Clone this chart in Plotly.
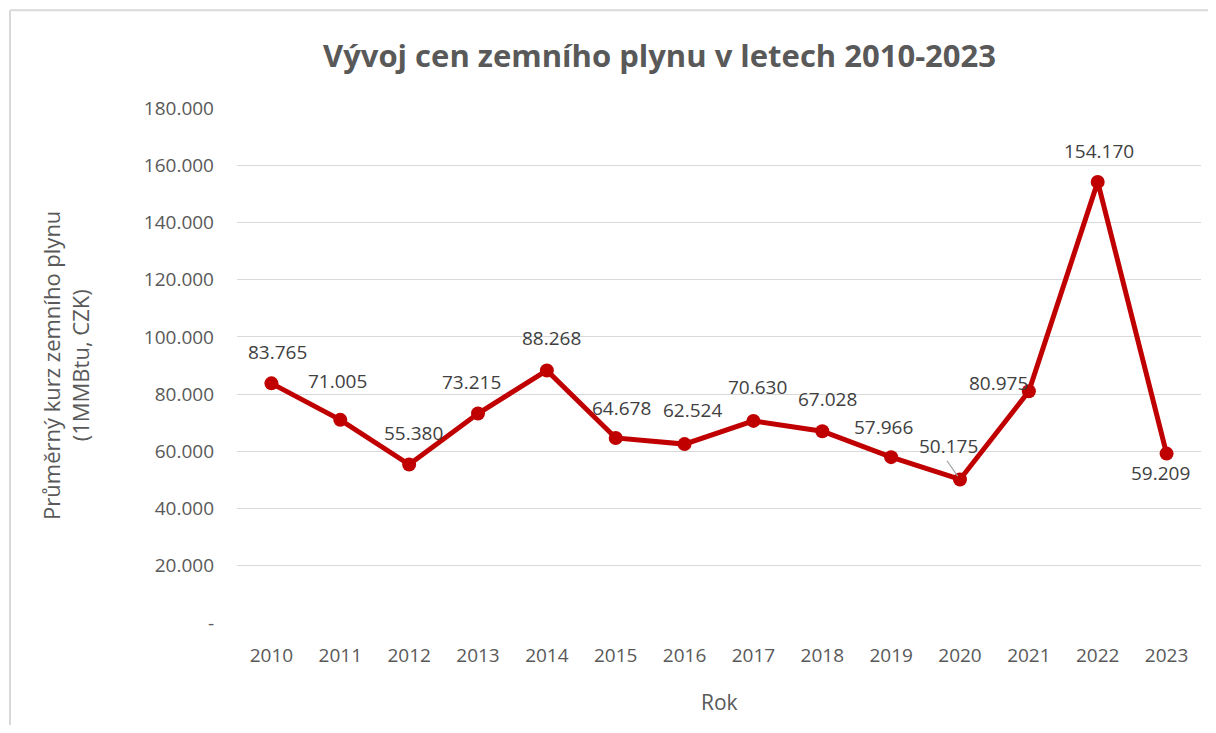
import plotly.graph_objects as go

years = [2010, 2011, 2012, 2013, 2014, 2015, 2016, 2017, 2018, 2019, 2020, 2021, 2022, 2023]
prices = [83.765, 71.005, 55.380, 73.215, 88.268, 64.678, 62.524, 70.630, 67.028, 57.966, 50.175, 80.975, 154.170, 59.209]
y_tick_vals = [0, 20, 40, 60, 80, 100, 120, 140, 160, 180]
y_tick_text = ["-", "20.000", "40.000", "60.000", "80.000", "100.000", "120.000", "140.000", "160.000", "180.000"]

title_text = "Vývoj cen zemního plynu v letech 2010-2023"
x_title = "Rok"
y_title = "Průměrný kurz zemního plynu<br>(1MMBtu, CZK)"

# label offsets in pixels (xshift, yshift) – styling only
label_offsets = [(6, 31), (-3, 39), (4, 32), (-7, 32), (5, 32), (6, 30), (8, 34), (4, 34), (5, 32), (-8, 30), (-12, 33), (-30, 8), (1, 31), (-6, -19)]

FONT = "Open Sans"
GRAY = "#595959"

fig = go.Figure()
fig.add_trace(go.Scatter(
    x=years, y=prices, mode="lines+markers",
    line=dict(color="#C00000", width=5),
    marker=dict(color="#C00000", size=14),
    hoverinfo="x+y", showlegend=False,
))

for yr, v, (dx, dy) in zip(years, prices, label_offsets):
    fig.add_annotation(x=yr, y=v, text=f"{v:.3f}", showarrow=False,
                       xshift=dx, yshift=dy,
                       font=dict(family=FONT, size=19, color="#404040"))

# leader line for 2020 label
fig.add_annotation(x=2020, y=prices[10], ax=-14, ay=-20, text="", showarrow=True,
                   arrowhead=0, arrowwidth=1.2, arrowcolor="#A6A6A6", standoff=4)

fig.add_annotation(x=0.438, y=1.103, xref="paper", yref="paper", text=f"<b>{title_text}</b>",
                   showarrow=False, xanchor="center", yanchor="middle",
                   font=dict(family=FONT, size=31, color=GRAY))

fig.add_annotation(x=-0.178, y=0.5, xref="paper", yref="paper", text=y_title,
                   showarrow=False, textangle=-90, xanchor="center", yanchor="middle",
                   font=dict(family=FONT, size=22, color=GRAY))

fig.add_annotation(x=0.5, y=-0.153, xref="paper", yref="paper", text=x_title,
                   showarrow=False, xanchor="center", yanchor="middle",
                   font=dict(family=FONT, size=21, color=GRAY))

# chart frame: only top and left edges visible
fig.add_shape(type="line", xref="paper", yref="paper",
              x0=-0.2355, x1=1.03, y0=1.19, y1=1.19,
              line=dict(color="#D9D9D9", width=2))
fig.add_shape(type="line", xref="paper", yref="paper",
              x0=-0.2355, x1=-0.2355, y0=1.19, y1=-0.25,
              line=dict(color="#D9D9D9", width=2))

fig.update_layout(
    width=1200, height=717,
    margin=dict(l=229, r=7, t=100, b=102),
    paper_bgcolor="white", plot_bgcolor="white",
    font=dict(family=FONT, color=GRAY),
    xaxis=dict(range=[2009.5, 2023.5], tickvals=years, ticktext=[str(y) for y in years],
               showgrid=False, zeroline=False, showline=False, ticks="",
               ticklabelstandoff=19,
               tickfont=dict(size=19, color=GRAY)),
    yaxis=dict(range=[0, 180], tickvals=y_tick_vals, ticktext=y_tick_text,
               showgrid=True, gridcolor="#D9D9D9", gridwidth=1.2, zeroline=False,
               showline=False, ticks="", ticklabelstandoff=22,
               tickfont=dict(size=19, color=GRAY)),
)

fig.write_html("out.html")
